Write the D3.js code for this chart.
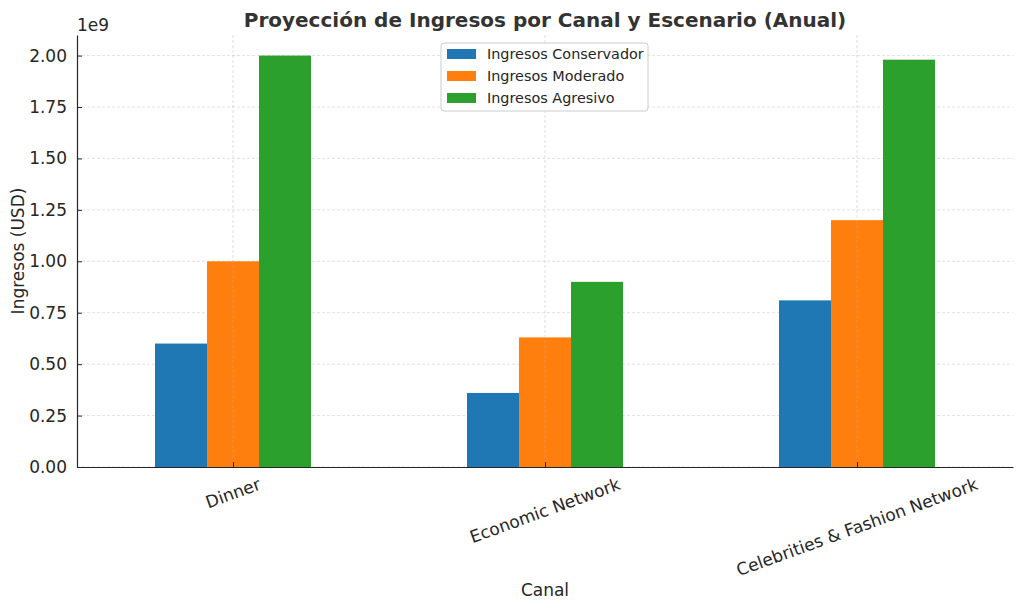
<!DOCTYPE html>
<html>
<head>
<meta charset="utf-8">
<script src="https://cdn.jsdelivr.net/npm/d3@7"></script>
<style>
  body { margin: 0; background: #fff; }
  svg { font-family: "DejaVu Sans", sans-serif; }
</style>
</head>
<body>
<div id="chart"></div>
<script>
// Chart data
const canales = ['Dinner', 'Economic Network', 'Celebrities & Fashion Network'];
const escenarios = ['Ingresos Conservador', 'Ingresos Moderado', 'Ingresos Agresivo'];
const conservador = [0.60e9, 0.36e9, 0.81e9];
const moderado = [1.00e9, 0.63e9, 1.20e9];
const agresivo = [2.00e9, 0.90e9, 1.98e9];
const yTicks = [0, 0.25e9, 0.5e9, 0.75e9, 1.0e9, 1.25e9, 1.5e9, 1.75e9, 2.0e9];
const colores = ['#1f77b4', '#ff7f0e', '#2ca02c'];

const series = [conservador, moderado, agresivo];

const width = 1023, height = 610;
const margin = { top: 35, right: 10, bottom: 143, left: 77 };
const innerW = width - margin.left - margin.right;
const innerH = height - margin.top - margin.bottom;
const textColor = '#262626';
const labelSize = 17;

const svg = d3.select('#chart').append('svg')
    .attr('width', width)
    .attr('height', height);

const g = svg.append('g')
    .attr('transform', `translate(${margin.left},${margin.top})`);

// x: category positions -0.5 .. 2.5 like pandas bar plot
const x = d3.scaleLinear().domain([-0.5, canales.length - 0.5]).range([0, innerW]);
const y = d3.scaleLinear().domain([0, 2.1e9]).range([innerH, 0]);
const barW = 0.5 / series.length;

// horizontal grid (behind bars)
g.append('g').selectAll('line')
    .data(yTicks)
    .join('line')
    .attr('x1', 0).attr('x2', innerW)
    .attr('y1', d => y(d)).attr('y2', d => y(d))
    .attr('stroke', '#d9d9d9')
    .attr('stroke-width', 0.8)
    .attr('stroke-dasharray', '3,2');

// bars
series.forEach((vals, si) => {
    g.append('g').selectAll('rect')
        .data(vals)
        .join('rect')
        .attr('x', (d, i) => x(i - 0.25 + si * barW))
        .attr('width', x(barW) - x(0))
        .attr('y', d => y(d))
        .attr('height', d => innerH - y(d))
        .attr('fill', colores[si]);
});

// vertical grid (drawn over bars, faint)
g.append('g').selectAll('line')
    .data(canales.map((c, i) => i))
    .join('line')
    .attr('x1', d => x(d)).attr('x2', d => x(d))
    .attr('y1', 0).attr('y2', innerH)
    .attr('stroke', '#b0b0b0')
    .attr('stroke-opacity', 0.5)
    .attr('stroke-width', 0.8)
    .attr('stroke-dasharray', '3,2');

// y axis
const yAxis = g.append('g')
    .call(d3.axisLeft(y).tickValues(yTicks).tickSizeInner(-5).tickSizeOuter(0)
        .tickPadding(10).tickFormat(d => (d / 1e9).toFixed(2)));
yAxis.select('.domain').attr('stroke', textColor).attr('stroke-width', 1.2);
yAxis.selectAll('.tick line').attr('stroke', textColor);
yAxis.selectAll('.tick text')
    .attr('fill', textColor)
    .style('font-size', labelSize + 'px')
    .style('font-family', '"DejaVu Sans", sans-serif');

// x axis
const xAxis = g.append('g')
    .attr('transform', `translate(0,${innerH})`)
    .call(d3.axisBottom(x).tickValues(canales.map((c, i) => i)).tickSizeInner(-5)
        .tickSizeOuter(0).tickFormat(''));
xAxis.select('.domain').attr('stroke', textColor).attr('stroke-width', 1.2);
xAxis.selectAll('.tick line').attr('stroke', textColor);

// rotated category labels, centred on tick like matplotlib rotation=20
const rot = 20 * Math.PI / 180;
canales.forEach((c, i) => {
    const t = g.append('text')
        .attr('text-anchor', 'middle')
        .attr('dominant-baseline', 'central')
        .attr('fill', textColor)
        .style('font-size', labelSize + 'px')
        .text(c);
    const w = t.node().getComputedTextLength();
    const h = labelSize * 1.17;
    const boxH = w * Math.sin(rot) + h * Math.cos(rot);
    const cy = innerH + 7 + boxH / 2;
    t.attr('transform', `translate(${x(i)},${cy}) rotate(-20)`);
});

// axis titles
svg.append('text')
    .attr('x', margin.left + innerW / 2)
    .attr('y', 596)
    .attr('text-anchor', 'middle')
    .attr('fill', textColor)
    .style('font-size', labelSize + 'px')
    .text('Canal');

svg.append('text')
    .attr('transform', `translate(24,${margin.top + innerH / 2}) rotate(-90)`)
    .attr('text-anchor', 'middle')
    .attr('fill', textColor)
    .style('font-size', labelSize + 'px')
    .text('Ingresos (USD)');

// offset text
svg.append('text')
    .attr('x', margin.left)
    .attr('y', 31)
    .attr('fill', textColor)
    .style('font-size', labelSize + 'px')
    .text('1e9');

// title
svg.append('text')
    .attr('x', margin.left + innerW / 2)
    .attr('y', 27)
    .attr('text-anchor', 'middle')
    .attr('fill', '#333333')
    .style('font-size', '20px')
    .style('font-weight', 'bold')
    .text('Proyección de Ingresos por Canal y Escenario (Anual)');

// legend
const legend = svg.append('g').attr('transform', 'translate(441,43)');
legend.append('rect')
    .attr('width', 207).attr('height', 68)
    .attr('rx', 3)
    .attr('fill', '#fff')
    .attr('fill-opacity', 0.85)
    .attr('stroke', '#cccccc');
escenarios.forEach((s, i) => {
    const row = legend.append('g').attr('transform', `translate(6,${11 + i * 22})`);
    row.append('rect')
        .attr('y', -5).attr('width', 29).attr('height', 10)
        .attr('fill', colores[i]);
    row.append('text')
        .attr('x', 40)
        .attr('dominant-baseline', 'central')
        .attr('fill', textColor)
        .style('font-size', '14.4px')
        .text(s);
});
</script>
</body>
</html>
